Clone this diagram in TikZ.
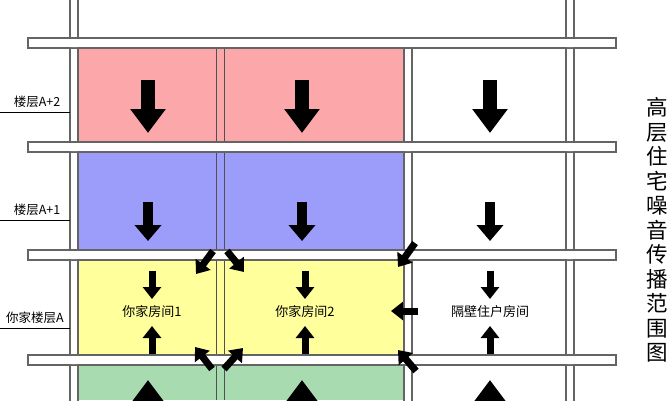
\documentclass[tikz,border=0pt]{standalone}
\usepackage{fontspec}
\setmainfont{Noto Sans CJK SC}
\usetikzlibrary{arrows.meta}
\definecolor{pinkr}{RGB}{252,168,170}
\definecolor{bluer}{RGB}{156,156,250}
\definecolor{yellr}{RGB}{255,255,156}
\definecolor{greenr}{RGB}{168,220,176}
\definecolor{wallc}{RGB}{100,100,100}
\begin{document}
\begin{tikzpicture}[x=1pt,y=-1pt,
  wall/.style={draw=wallc,fill=white,line width=1.4pt},
  room/.style={draw=wallc!80!black,line width=0.6pt},
  big/.style={line width=14pt,-{Triangle[width=34pt,length=24pt]}},
  mid/.style={line width=10pt,-{Triangle[width=26pt,length=16pt]}},
  sm/.style={line width=7pt,-{Triangle[width=18pt,length=12pt]}},
  lab/.style={font=\fontsize{12.5}{13}\selectfont},
  rt/.style={font=\fontsize{13}{14}\selectfont}]
\useasboundingbox (0,0) rectangle (671,400);
% rooms
\foreach \ya/\yb/\c in {48/142/pinkr,152/250/bluer,260/355/yellr,366/400/greenr}{
  \fill[\c] (78,\ya) rectangle (404,\yb);
  \draw[room] (216,\ya) -- (216,\yb) (224,\ya) -- (224,\yb);
}
% columns
\draw[wall] (70,-2) rectangle (78,402);
\draw[wall] (566,-2) rectangle (574,402);
\draw[wall] (404,48) rectangle (412,402);
% slabs
\foreach \ya in {38,142,250,355}{
  \draw[wall] (28,\ya) rectangle (616,\ya+10);
}
\fill[white] (70.7,39) rectangle (77.3,47) (70.7,143) rectangle (77.3,151) (70.7,251) rectangle (77.3,259) (70.7,356) rectangle (77.3,364);
\fill[white] (566.7,39) rectangle (573.3,47) (566.7,143) rectangle (573.3,151) (566.7,251) rectangle (573.3,259) (566.7,356) rectangle (573.3,364);
\fill[white] (404.7,143) rectangle (411.3,151) (404.7,251) rectangle (411.3,259) (404.7,356) rectangle (411.3,364);
% labels
\node[lab] (l2) at (37,102) {楼层A+2};
\draw (0,112) -- (70,112);
\node[lab] (l1) at (37,210) {楼层A+1};
\draw (0,220) -- (70,220);
\node[lab] (l0) at (35,318) {你家楼层A};
\draw (0,328) -- (70,328);
\node[rt] (r1) at (152,312) {你家房间1};
\node[rt] (r2) at (305,312) {你家房间2};
\node[rt] (r3) at (490,312) {隔壁住户房间};
\node[font=\fontsize{21.5}{24.5}\selectfont,align=center] (tt) at (657,230) {高\\层\\住\\宅\\噪\\音\\传\\播\\范\\围\\图};
% arrows
\foreach \x in {148,302,490}{
  \draw[big] (\x,80) -- (\x,133);
  \draw[mid] (\x,202) -- (\x,241);
  \draw[big] (\x,410) -- (\x,380);
}
\foreach \x in {152,305,490}{
  \draw[sm] (\x,271) -- (\x,299);
  \draw[sm] (\x,354) -- (\x,326);
}
\draw[sm] (418,311) -- (391,311);
\draw[sm] (213,251) -- (196,274);
\draw[sm] (227,251) -- (244,272);
\draw[sm] (415,243) -- (398,267);
\draw[sm] (212,369) -- (195,347);
\draw[sm] (224,369) -- (243,348);
\draw[sm] (416,371) -- (398,350);
\end{tikzpicture}
\end{document}
